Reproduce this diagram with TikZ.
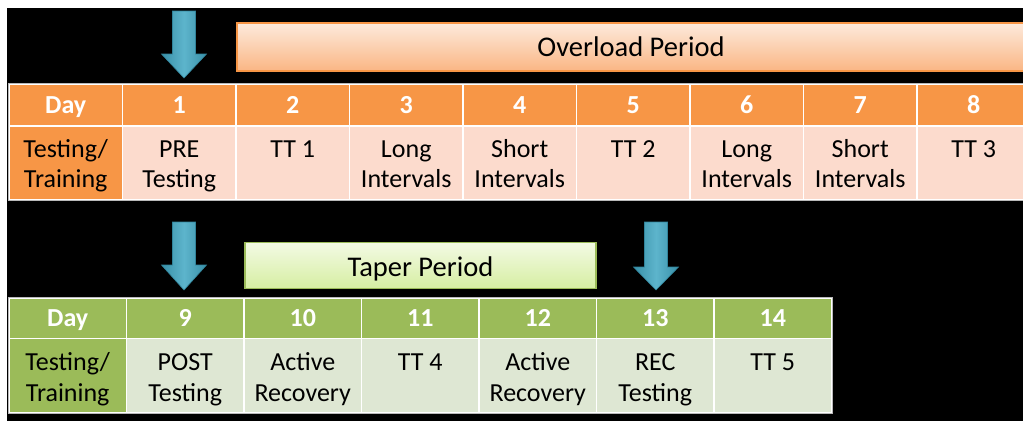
\documentclass[tikz,border=0pt]{standalone}
\usepackage{fontspec}
\setmainfont{Carlito}
\usetikzlibrary{calc,positioning}
\definecolor{schedOrange}{RGB}{247,150,70}
\definecolor{schedOrangeLight}{RGB}{252,219,205}
\definecolor{schedPeach}{RGB}{253,234,220}
\definecolor{schedPeachDark}{RGB}{250,182,132}
\definecolor{schedGreen}{RGB}{155,187,89}
\definecolor{schedGreenLight}{RGB}{222,231,211}
\definecolor{schedLime}{RGB}{243,250,228}
\definecolor{schedLimeDark}{RGB}{214,238,162}
\definecolor{schedBlue}{RGB}{75,172,198}
\definecolor{schedBlueDark}{RGB}{49,132,155}

\begin{document}
\begin{tikzpicture}[x=1pt,y=-1pt,
    cell/.style={draw=white, line width=1.5pt, inner sep=0pt},
    headtxt/.style={font=\fontsize{26}{31}\selectfont\bfseries, text=white, text height=17pt, text depth=0pt},
    bodytxt/.style={font=\fontsize{26}{31}\selectfont, anchor=base, inner sep=0pt},
    bar/.style={line width=1.5pt, inner sep=0pt, text depth=0pt, font=\fontsize{28.5}{32}\selectfont}]

    \useasboundingbox (0,0) rectangle (1023,421);
    \clip (0,0) rectangle (1023,421);
    \fill[black] (7,8) rectangle (1023,421);

    % overload period bar
    \node[bar, draw=schedOrange, top color=schedPeach, bottom color=schedPeachDark,
          minimum width=788pt, minimum height=48pt, text height=18pt] (overload) at (631,47) {Overload Period};

    % first table: days 1-8
    \foreach \lab [count=\i from 0] in {Day,1,2,3,4,5,6,7,8} {
        \pgfmathsetmacro{\cx}{65.75+113.5*\i}
        \node[cell, headtxt, fill=schedOrange, minimum width=113.5pt, minimum height=42pt] (oh\i) at (\cx,105) {\lab};
    }
    \node[cell, fill=schedOrange, minimum width=113.5pt, minimum height=74pt] (ob0) at (65.75,163) {};
    \node[bodytxt] (ob0a) at (65.75,157) {Testing/};
    \node[bodytxt] (ob0b) at (65.75,187) {Training};
    \foreach \a/\b [count=\i] in {PRE/Testing, TT 1/{}, Long/Intervals, Short/Intervals,
                                  TT 2/{}, Long/Intervals, Short/Intervals, TT 3/{}} {
        \pgfmathsetmacro{\cx}{65.75+113.5*\i}
        \node[cell, fill=schedOrangeLight, minimum width=113.5pt, minimum height=74pt] (ob\i) at (\cx,163) {};
        \node[bodytxt] (ob\i a) at (\cx,157) {\a};
        \node[bodytxt] (ob\i b) at (\cx,187) {\b};
    }

    % taper period bar
    \node[bar, draw=schedGreen, top color=schedLime, bottom color=schedLimeDark,
          minimum width=351pt, minimum height=46pt, text height=21pt] (taper) at (420.5,265.5) {Taper Period};

    % second table: days 9-14
    \foreach \lab [count=\i from 0] in {Day,9,10,11,12,13,14} {
        \pgfmathsetmacro{\cx}{67.75+117.5*\i}
        \node[cell, headtxt, text height=15pt, fill=schedGreen, minimum width=117.5pt, minimum height=40pt] (gh\i) at (\cx,318.5) {\lab};
    }
    \node[cell, fill=schedGreen, minimum width=117.5pt, minimum height=74pt] (gb0) at (67.75,375.5) {};
    \node[bodytxt] (gb0a) at (67.75,370) {Testing/};
    \node[bodytxt] (gb0b) at (67.75,401) {Training};
    \foreach \a/\b [count=\i] in {POST/Testing, Active/Recovery, TT 4/{},
                                  Active/Recovery, REC/Testing, TT 5/{}} {
        \pgfmathsetmacro{\cx}{67.75+117.5*\i}
        \node[cell, fill=schedGreenLight, minimum width=117.5pt, minimum height=74pt] (gb\i) at (\cx,375.5) {};
        \node[bodytxt] (gb\i a) at (\cx,370) {\a};
        \node[bodytxt] (gb\i b) at (\cx,401) {\b};
    }

    % thin frame round the tables
    \draw[gray!55, line width=0.8pt] (oh0.north west) rectangle (ob8.south east);
    \draw[gray!55, line width=0.8pt] (gh0.north west) rectangle (gb6.south east);

    % testing day arrows
    \foreach \ax/\ya/\yb/\yc in {184/11/54/78, 184/222/265/290, 656/222/267/290} {
        \draw[schedBlueDark, line width=0.6pt, left color=schedBlueDark!70!schedBlue,
              right color=schedBlueDark!70!schedBlue, middle color=schedBlue!90!white]
            (\ax-11.5,\ya) -- (\ax+11.5,\ya) -- (\ax+11.5,\yb) -- (\ax+22.5,\yb)
            -- (\ax,\yc) -- (\ax-22.5,\yb) -- (\ax-11.5,\yb) -- cycle;
    }
\end{tikzpicture}
\end{document}
